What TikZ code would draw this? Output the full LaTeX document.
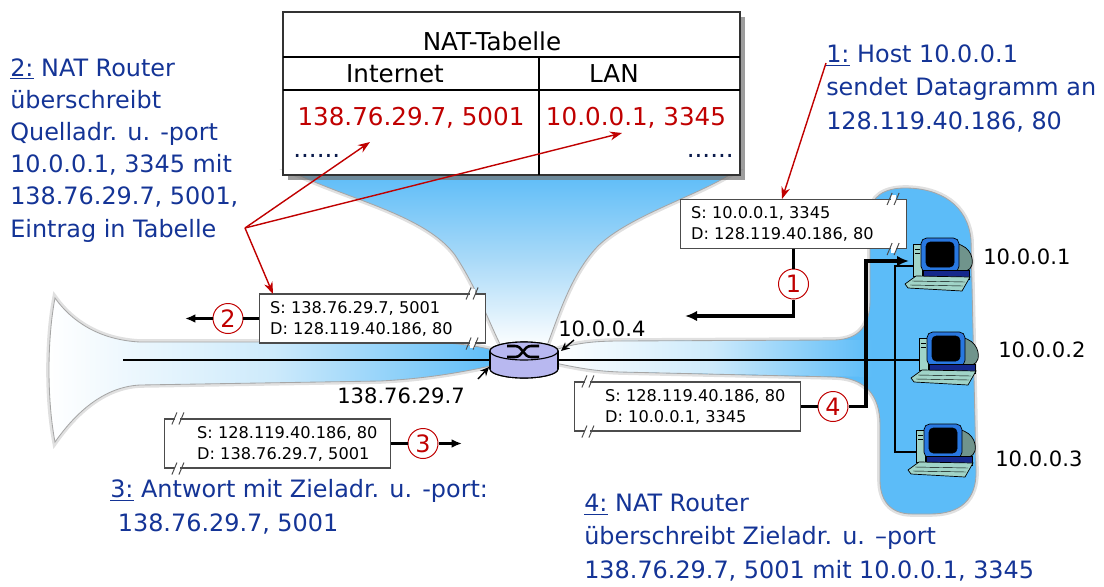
\documentclass[tikz,border=0pt]{standalone}
\usepackage{fontspec}
\setmainfont{DejaVu Sans}
\usetikzlibrary{arrows.meta,positioning,shadows}

\definecolor{noteblue}{RGB}{20,52,150}
\definecolor{natred}{RGB}{192,0,0}
\definecolor{lanblue}{RGB}{92,188,248}
\definecolor{hornmid}{RGB}{205,234,251}
\definecolor{funmid}{RGB}{170,218,248}
\definecolor{routerfill}{RGB}{184,184,240}
\definecolor{pcteal}{RGB}{160,212,200}
\definecolor{pcblue}{RGB}{40,120,225}
\definecolor{pcnavy}{RGB}{20,40,140}

\tikzset{
  % router: flat cylinder with the crossing arrows on top
  router/.pic={
    \filldraw[fill=routerfill, line width=0.8pt] (0,9) ellipse [x radius=34, y radius=9];
    \fill[routerfill] (-34,-9) rectangle (34,9);
    \draw[line width=0.8pt] (-34,-9) -- (-34,9) (34,-9) -- (34,9);
    \filldraw[fill=routerfill, line width=0.8pt] (0,-9) ellipse [x radius=34, y radius=9];
    \draw[line width=1.8pt] (-17,-14) -- (-9,-14) .. controls (-1,-14) and (-1,-3) .. (7,-3) -- (15,-3);
    \draw[line width=1.8pt] (-17,-3) -- (-9,-3) .. controls (-1,-3) and (-1,-14) .. (7,-14) -- (15,-14);
    \coordinate (-w) at (-34,0);
    \coordinate (-e) at (34,0);
  },
  % desktop pc: tower, monitor, base and keyboard
  pcbox/.pic={
    \filldraw[fill=pcteal, line width=0.5pt] (-25,-20) rectangle (-16,12);
    \draw[line width=0.4pt] (-23,-15) -- (-18,-15) (-23,-11) -- (-18,-11);
    \filldraw[fill=pcteal!70!black, line width=0.5pt] (12,-21) .. controls (30,-21) and (36,-8) .. (34,1) .. controls (33,7) and (24,9) .. (12,8) -- cycle;
    \filldraw[fill=pcblue, line width=0.5pt, rounded corners=4pt] (-17,-26) rectangle (21,8);
    \filldraw[fill=black, rounded corners=3pt] (-12,-22) rectangle (16,3);
    \filldraw[fill=pcnavy, line width=0.5pt] (-15,6) -- (31,6) -- (31,15) -- (-15,15) -- cycle;
    \filldraw[fill=pcteal, line width=0.5pt] (-33,20) -- (-22,12) -- (32,13) -- (24,27) -- (-30,24) -- cycle;
    \draw[line width=0.3pt] (-26,17) -- (27,18) (-28,21) -- (25,22);
    \coordinate (-in) at (-25,2);
  },
  % break mark on a packet edge
  gap/.pic={
    \fill[white] (-2.5,-4) rectangle (2.5,4);
    \draw[black!70, line width=0.7pt] (-6,6) -- (-1,-6) (1,6) -- (6,-6);
  }
}

\begin{document}
\begin{tikzpicture}[x=0.025cm, y=-0.025cm,
    note/.style={text=noteblue, align=left, inner sep=0pt, anchor=base west, font=\fontsize{17}{23.5}\selectfont},
    tabtext/.style={inner sep=0pt, anchor=base, font=\fontsize{17.5}{21}\selectfont},
    entry/.style={tabtext, text=natred},
    ip/.style={inner sep=0pt, anchor=base west, font=\fontsize{15}{18}\selectfont},
    nattab/.style={rectangle, draw=black!80, line width=1pt, fill=white, minimum width=11.425cm, minimum height=4.075cm, drop shadow={shadow xshift=0.13cm, shadow yshift=-0.13cm, fill=black!55, opacity=0.7}},
    pkt/.style={rectangle, draw=black!70, line width=0.8pt, fill=white, minimum width=5.65cm, minimum height=1.225cm},
    pkttxt/.style={inner sep=0pt, align=left, font=\fontsize{11.5}{15}\selectfont},
    stepnum/.style={circle, draw=natred, line width=0.7pt, fill=white, text=natred, minimum size=0.75cm, inner sep=0pt, font=\fontsize{17}{17}\selectfont},
    lanflow/.style={line width=2.6pt},
    wanflow/.style={line width=1.6pt},
    wire/.style={line width=1.2pt},
    pointer/.style={draw=natred, line width=1pt, -{Stealth[length=3mm,width=2.2mm]}},
    tick/.style={line width=1pt, -{Stealth[length=2.2mm,width=2mm]}},
    rim/.style={preaction={draw=black!12, line width=4pt}, draw=black!35, line width=0.6pt}
]
\useasboundingbox (0,0) rectangle (1104,586);

% Internet side horn
\path[rim, left color=white, right color=lanblue, middle color=hornmid]
  (500,352) .. controls (470,343) and (440,342) .. (400,342) -- (140,342)
  .. controls (100,340) and (72,322) .. (55,298)
  .. controls (47,340) and (47,400) .. (55,442)
  .. controls (72,418) and (100,387) .. (140,385) -- (380,381)
  .. controls (440,378) and (480,368) .. (500,364) -- cycle;

% funnel below the table
\path[rim, top color=lanblue, bottom color=white, middle color=funmid]
  (292,172) .. controls (350,200) and (425,215) .. (455,255)
  .. controls (478,290) and (490,325) .. (502,348) -- (546,348)
  .. controls (558,318) and (570,275) .. (598,246)
  .. controls (630,215) and (700,195) .. (734,172) -- cycle;

% LAN side: horn and home network
\path[save path=\lanpath]
  (550,352) .. controls (570,344) and (590,341) .. (620,341) -- (835,340)
  .. controls (860,339) and (870,325) .. (870,300) -- (870,215)
  .. controls (870,196) and (885,188) .. (905,188)
  .. controls (940,188) and (968,205) .. (971,240) -- (976,470)
  .. controls (977,500) and (960,514) .. (930,514) -- (912,514)
  .. controls (890,514) and (880,500) .. (880,480) -- (880,425)
  .. controls (880,395) and (865,378) .. (835,377) -- (620,372)
  .. controls (590,371) and (570,366) .. (550,362) -- cycle;
\draw[use path=\lanpath, draw=black!12, line width=4pt];
\fill[use path=\lanpath, lanblue];
\shade[left color=white, right color=lanblue, middle color=hornmid]
  (550,352) .. controls (570,344) and (590,341) .. (620,341) -- (872,340)
  -- (872,377) -- (620,372) .. controls (590,371) and (570,366) .. (550,362) -- cycle;
\draw[use path=\lanpath, draw=black!35, line width=0.6pt];

% Router and hosts
\coordinate (inet) at (123,360);
\pic (rt) at (524,360) {router};
\pic (pc1) at (938,264) {pcbox};
\pic (pc2) at (944,358) {pcbox};
\pic (pc3) at (941,450) {pcbox};

\draw[wire] (inet) -- (rt-w);
\draw[wire] (rt-e) -- (pc2-in);
\draw[wire] (pc1-in) -- ++(-18,0) |- (pc3-in);
\pic (rt) at (524,360) {router};

% NAT table
\node[nattab] (nat) at (511.5,93.5) {};
\draw[line width=0.8pt] (283,57) -- (740,57);
\draw[line width=0.8pt] (283,90) -- (740,90);
\draw[line width=0.8pt] (539,57) -- (539,175);
\node[tabtext] (nattitle) at (492,50) {NAT-Tabelle};
\node[tabtext] (colwan) at (395,82) {Internet};
\node[tabtext] (collan) at (614,82) {LAN};
\node[entry] (ent1) at (411,125) {138.76.29.7, 5001};
\node[entry] (ent2) at (636,125) {10.0.0.1, 3345};
\node[tabtext, anchor=base west, text=noteblue!50!black] (more1) at (293,157) {......};
\node[tabtext, anchor=base east, text=noteblue!50!black] (more2) at (734,157) {......};

% Datagrams
\node[pkt] (p1) at (793.5,224) {};
\node[pkttxt, right=0.275cm of p1.west] (s1) {S: 10.0.0.1, 3345\\D: 128.119.40.186, 80};
\pic at ([xshift=-0.35cm]p1.north east) {gap};
\pic at ([xshift=-0.35cm]p1.south east) {gap};

\node[pkt] (p2) at (372.5,318.5) {};
\node[pkttxt, right=0.275cm of p2.west] (s2) {S: 138.76.29.7, 5001\\D: 128.119.40.186, 80};
\pic at ([xshift=-0.35cm]p2.north east) {gap};
\pic at ([xshift=-0.35cm]p2.south east) {gap};

\node[pkt] (p3) at (277.5,443.5) {};
\node[pkttxt, right=0.825cm of p3.west] (s3) {S: 128.119.40.186, 80\\D: 138.76.29.7, 5001};
\pic at ([xshift=0.35cm]p3.north west) {gap};
\pic at ([xshift=0.35cm]p3.south west) {gap};

\node[pkt] (p4) at (687.5,406.5) {};
\node[pkttxt, right=0.775cm of p4.west] (s4) {S: 128.119.40.186, 80\\D: 10.0.0.1, 3345};
\pic at ([xshift=0.35cm]p4.north west) {gap};
\pic at ([xshift=0.35cm]p4.south west) {gap};

% Steps
\node[stepnum] (c1) at (793.5,284) {1};
\node[stepnum] (c2) at (228,318.5) {2};
\node[stepnum] (c3) at (423,443.5) {3};
\node[stepnum] (c4) at (833,406.5) {4};

\coordinate (e1) at (685,316);
\coordinate (e2) at (185,318.5);
\coordinate (e3) at (462,443.5);
\coordinate (k4) at (866,261);
\coordinate (e4) at (909,261);

\draw[lanflow] (p1) -- (c1);
\draw[lanflow, -{Latex[length=3mm,width=2.6mm]}] (c1) |- (e1);
\draw[wanflow] (p2) -- (c2);
\draw[wanflow, -{Latex[length=2.6mm,width=2.2mm]}] (c2) -- (e2);
\draw[wanflow] (p3) -- (c3);
\draw[wanflow, -{Latex[length=2.6mm,width=2.2mm]}] (c3) -- (e3);
\draw[lanflow] (p4) -- (c4);
\draw[lanflow, -{Latex[length=3mm,width=2.6mm]}] (c4) -| (k4) -- (e4);

% Addresses
\node[ip] (lanip) at (558,336) {10.0.0.4};
\node[ip] (wanip) at (337,403) {138.76.29.7};
\node[ip] (ip1) at (983,264) {10.0.0.1};
\node[ip] (ip2) at (998,357) {10.0.0.2};
\node[ip] (ip3) at (995,466) {10.0.0.3};
\coordinate (lanipfoot) at (574,340);
\coordinate (rtlan) at (561,351);
\coordinate (wanipfoot) at (478,379);
\coordinate (rtwan) at (489,367);
\draw[tick] (lanipfoot) -- (rtlan);
\draw[tick] (wanipfoot) -- (rtwan);

% Explanations (placed at the baseline of their last line)
\node[note] (n1) at (826,129) {\underline{1:} Host 10.0.0.1\\sendet Datagramm an\\128.119.40.186, 80};
\node[note, font=\fontsize{17}{22.8}\selectfont] (n2) at (10,237) {\underline{2:} NAT Router\\überschreibt\\Quelladr. u. -port\\10.0.0.1, 3345 mit\\138.76.29.7, 5001,\\Eintrag in Tabelle};
\node[note] (n3) at (110,531) {\underline{3:} Antwort mit Zieladr. u. -port:\\\ 138.76.29.7, 5001};
\node[note] (n4) at (584,578) {\underline{4:} NAT Router\\überschreibt Zieladr. u. –port\\138.76.29.7, 5001 mit 10.0.0.1, 3345};

\coordinate (n1tail) at (826,63);
\coordinate (tip1) at (782,199);
\coordinate (fork) at (245,228);
\coordinate (tipa) at (370,142);
\coordinate (tipb) at (622,133);
\coordinate (tipc) at (273,294);
\draw[pointer] (n1tail) -- (tip1);
\draw[pointer] (fork) -- (tipa);
\draw[pointer] (fork) -- (tipb);
\draw[pointer] (fork) -- (tipc);

\end{tikzpicture}
\end{document}
